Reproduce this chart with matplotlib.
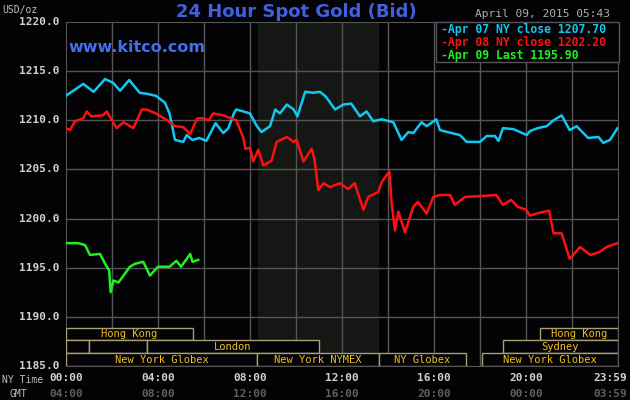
import matplotlib
matplotlib.use("Agg")
import matplotlib.pyplot as plt
from matplotlib.patches import Rectangle

blue_h = [0,0.75,1.2,1.7,2.06,2.35,2.75,3.2,3.5,3.9,4.3,4.5,4.74,5.1,5.25,5.5,5.8,6.1,6.5,6.84,7.06,7.3,7.4,8.0,8.3,8.5,8.87,9.1,9.3,9.6,9.9,10.06,10.4,10.75,11.04,11.3,11.7,12.06,12.4,12.78,13.07,13.36,13.72,14.23,14.59,14.88,15.1,15.46,15.68,16.1,16.26,16.76,17.13,17.42,18.0,18.29,18.65,18.8,19.0,19.45,20.03,20.17,20.5,20.9,21.2,21.55,21.9,22.2,22.7,23.15,23.36,23.65,23.98]
blue_p = [1212.5,1213.7,1212.9,1214.2,1213.8,1213.0,1214.1,1212.8,1212.7,1212.5,1211.8,1210.7,1208.0,1207.8,1208.5,1208.0,1208.2,1207.9,1209.7,1208.7,1209.2,1210.7,1211.1,1210.7,1209.4,1208.8,1209.4,1211.1,1210.7,1211.6,1211.1,1210.4,1212.9,1212.8,1212.9,1212.4,1211.1,1211.6,1211.7,1210.4,1210.9,1209.9,1210.1,1209.8,1208.0,1208.8,1208.7,1209.8,1209.4,1210.1,1209.0,1208.7,1208.5,1207.8,1207.8,1208.4,1208.4,1207.9,1209.2,1209.1,1208.5,1208.9,1209.2,1209.4,1210.0,1210.5,1209.0,1209.4,1208.2,1208.3,1207.7,1208.0,1209.2]

red_h = [0,0.17,0.39,0.75,0.9,1.1,1.6,1.77,2.0,2.2,2.5,2.93,3.3,3.5,3.9,4.4,4.74,5.1,5.4,5.7,5.97,6.2,6.4,6.84,7.06,7.4,7.7,7.8,8.0,8.14,8.36,8.58,8.94,9.16,9.6,9.9,10.03,10.32,10.68,10.8,10.97,11.2,11.48,11.9,12.27,12.55,12.93,13.14,13.58,13.72,14.06,14.16,14.3,14.45,14.74,15.1,15.3,15.68,15.97,16.26,16.7,16.9,17.35,18.14,18.7,19.0,19.35,19.64,20.0,20.17,20.6,21.0,21.2,21.55,21.9,22.35,22.8,23.2,23.5,23.98]
red_p = [1209.2,1209.0,1209.9,1210.2,1210.9,1210.4,1210.5,1210.9,1210.0,1209.2,1209.8,1209.2,1211.1,1211.1,1210.7,1210.0,1209.4,1209.3,1208.6,1210.2,1210.2,1210.0,1210.7,1210.5,1210.3,1210.0,1208.3,1207.1,1207.2,1205.8,1207.0,1205.4,1205.9,1207.8,1208.3,1207.8,1208.0,1205.8,1207.1,1206.1,1202.9,1203.6,1203.2,1203.6,1203.0,1203.6,1200.9,1202.2,1202.7,1203.7,1204.8,1201.5,1198.8,1200.7,1198.6,1201.2,1201.7,1200.5,1202.2,1202.4,1202.4,1201.4,1202.2,1202.3,1202.4,1201.4,1201.9,1201.2,1200.9,1200.3,1200.6,1200.8,1198.5,1198.5,1195.9,1197.1,1196.3,1196.6,1197.1,1197.5]

green_h = [0,0.54,0.83,1.04,1.48,1.7,1.88,1.94,2.06,2.28,2.78,3.0,3.36,3.65,4.0,4.5,4.8,5.0,5.4,5.5,5.75]
green_p = [1197.5,1197.5,1197.3,1196.3,1196.4,1195.4,1194.7,1192.5,1193.7,1193.5,1195.1,1195.4,1195.6,1194.2,1195.1,1195.1,1195.7,1195.1,1196.4,1195.6,1195.8]

legend_labels = ["Apr 07 NY close 1207.70", "Apr 08 NY close 1202.20", "Apr 09 Last 1195.90"]
yticks = [1185, 1190, 1195, 1200, 1205, 1210, 1215, 1220]
xticks = [0, 4, 8, 12, 16, 20, 23.983]
ny_labels = ["00:00", "04:00", "08:00", "12:00", "16:00", "20:00", "23:59"]
gmt_labels = ["04:00", "08:00", "12:00", "16:00", "20:00", "00:00", "03:59"]
sessions = [  # (row, start, end, label)
    (2, 0, 5.5, "Hong Kong"), (2, 20.6, 24, "Hong Kong"),
    (1, 0, 1.0, ""), (1, 1.0, 3.5, ""), (1, 3.5, 11.0, "London"), (1, 19.0, 24, "Sydney"),
    (0, 0, 8.3, "New York Globex"), (0, 8.3, 13.6, "New York NYMEX"),
    (0, 13.6, 17.4, "NY Globex"), (0, 18.1, 24, "New York Globex"),
]

MONO = "DejaVu Sans Mono"
BG = "#030205"
fig = plt.figure(figsize=(6.3, 4.0), dpi=100, facecolor=BG)
ax = fig.add_axes([66/630, 34/400, 552/630, 344/400], facecolor=BG)
ax.set_xlim(0, 24)
ax.set_ylim(1185, 1220)

ax.axvspan(8.35, 13.57, color="#141714", zorder=0)
for x in range(2, 24, 2):
    ax.axvline(x, color="#555555", lw=1, zorder=1)
for y in yticks[1:-1]:
    ax.axhline(y, color="#555555", lw=1, zorder=1)

ax.plot(blue_h, blue_p, color="#10c8f0", lw=1.8, zorder=3)
ax.plot(red_h, red_p, color="#ff1010", lw=1.8, zorder=3)
ax.plot(green_h, green_p, color="#20f020", lw=1.8, zorder=3)

rowh = 1.3
for row, s, e, lab in sessions:
    y0 = 1185 + row * rowh
    ax.add_patch(Rectangle((s, y0), e - s, rowh, facecolor=BG, edgecolor="#a8a070", lw=1, zorder=4))
    if lab:
        ax.text((s + e) / 2, y0 + rowh / 2, lab, color="#f0c020", fontsize=7.5, family=MONO,
                ha="center", va="center", zorder=5)

for sp in ax.spines.values():
    sp.set_color("#555555")
ax.set_xticks([]); ax.set_yticks([])

def fx(h): return (66 + h * 23) / 630
def fy(p): return (400 - (22 + (1220 - p) * 9.83)) / 400
for p in yticks:
    fig.text(60/630, fy(p), f"{p:.1f}", color="#d0d0d0", fontsize=8, family=MONO, fontweight="bold", ha="right", va="center")
for i, (h, a, b) in enumerate(zip(xticks, ny_labels, gmt_labels)):
    last = i == len(xticks) - 1
    xx = 627/630 if last else fx(h)
    ha = "right" if last else "center"
    fig.text(xx, 22/400, a, color="#d0d0d0", fontsize=8, family=MONO, fontweight="bold", ha=ha, va="center")
    fig.text(xx, 6/400, b, color="#606060", fontsize=8, family=MONO, fontweight="bold", ha=ha, va="center")
fig.text(2/630, 20/400, "NY Time", color="#c0c0c0", fontsize=7, family=MONO, va="center")
fig.text(10/630, 6/400, "GMT", color="#c0c0c0", fontsize=7, family=MONO, va="center")
fig.text(2/630, 390/400, "USD/oz", color="#c0c0c0", fontsize=7, family=MONO, va="center")
fig.text(296/630, 388/400, "24 Hour Spot Gold (Bid)", color="#4060e0", fontsize=13, fontweight="bold", ha="center", va="center")
fig.text(68/630, 352/400, "www.kitco.com", color="#4070f0", fontsize=11.5, fontweight="bold", va="center")
fig.text(610/630, 386/400, "April 09, 2015 05:43", color="#b0b0b0", fontsize=8, family=MONO, ha="right", va="center")

lx0, lx1, ly0, ly1 = 436, 619, 22, 62
fig.patches.append(Rectangle((lx0/630, 1 - ly1/400), (lx1-lx0)/630, (ly1-ly0)/400, transform=fig.transFigure,
                             facecolor=BG, edgecolor="#555555", lw=1, zorder=5))
for i, (lab, c) in enumerate(zip(legend_labels, ["#10c8f0", "#ff1010", "#20f020"])):
    fig.text(441/630, 1 - (30 + i * 12.5)/400, "-" + lab, color=c, fontsize=8.3, family=MONO, fontweight="bold", va="center", zorder=6)

fig.savefig("out.png", dpi=100, facecolor=BG)
